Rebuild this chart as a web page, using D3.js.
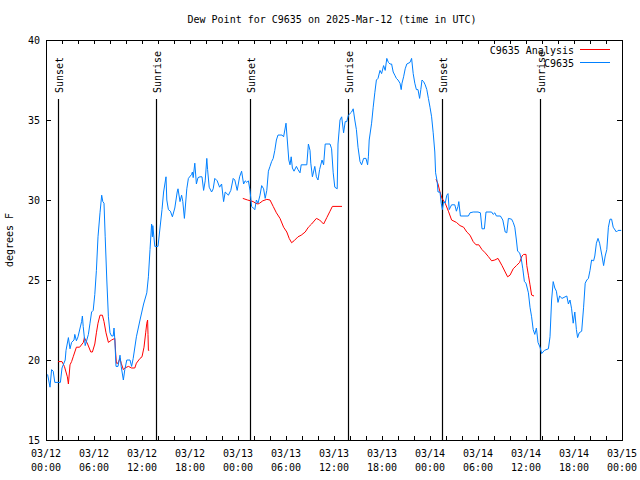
<!DOCTYPE html>
<html><head><meta charset="utf-8">
<script src="https://cdn.jsdelivr.net/npm/d3@7"></script>
<style>body{margin:0;background:#fff}svg{display:block}text{font-family:"DejaVu Sans Mono",monospace;font-size:10px;fill:#000}</style>
</head><body>
<script>
// hours since 2025-03-12 00:00 UTC, dew point (F)
const obsC9635 = [[0.2,19.1],[0.5,18.3],[0.7,19.4],[0.9,19.3],[1.1,18.6],[1.8,18.6],[2.0,19.5],[2.4,20.0],[2.5,20.6],[2.8,21.4],[3.0,20.7],[3.2,21.1],[3.5,21.25],[3.6,21.6],[3.8,21.2],[4.0,21.45],[4.45,22.4],[4.55,22.75],[4.65,22.1],[4.9,20.9],[5.3,21.6],[5.5,22.3],[5.7,23.0],[5.9,23.1],[6.1,24.1],[6.3,25.6],[6.5,27.7],[6.75,29.2],[6.96,30.3],[7.1,29.9],[7.25,29.8],[7.4,27.7],[7.6,25.0],[7.8,22.7],[8.0,21.7],[8.2,21.5],[8.4,21.5],[8.5,22.0],[8.6,21.3],[8.75,19.6],[9.0,19.6],[9.25,20.3],[9.4,19.6],[9.67,18.75],[9.85,19.4],[10.1,20.0],[10.5,20.0],[10.7,19.6],[10.9,20.1],[11.3,21.45],[11.75,22.5],[12.2,23.5],[12.6,24.2],[12.8,25.2],[13.0,26.9],[13.2,28.5],[13.3,27.7],[13.35,28.4],[13.6,27.1],[14.0,27.1],[14.5,29.4],[14.7,30.5],[15.0,31.45],[15.1,30.0],[15.3,29.4],[15.55,29.3],[15.8,28.95],[16.1,29.5],[16.4,30.5],[16.5,30.7],[16.75,29.9],[16.95,30.3],[17.1,29.9],[17.3,28.85],[17.6,30.7],[17.8,31.35],[18.2,31.6],[18.3,31.75],[18.4,31.4],[18.6,32.3],[18.8,31.0],[19.0,31.4],[19.25,31.45],[19.5,31.45],[19.7,30.6],[19.9,31.2],[20.1,32.6],[20.2,31.9],[20.4,30.8],[20.7,30.5],[20.9,30.7],[21.1,31.35],[21.4,31.2],[21.7,30.8],[21.95,31.0],[22.2,29.9],[22.4,30.5],[22.8,30.3],[23.1,30.6],[23.4,31.35],[23.6,31.25],[23.9,30.6],[24.2,31.45],[24.45,31.8],[24.7,31.0],[24.9,31.2],[25.1,31.1],[25.3,31.2],[25.5,30.6],[25.7,29.6],[25.9,29.5],[26.1,29.4],[26.3,30.0],[26.5,29.8],[26.75,30.3],[26.96,30.9],[27.2,30.7],[27.4,30.1],[27.6,30.6],[27.8,31.8],[28.0,32.1],[28.2,32.4],[28.4,32.6],[28.6,33.1],[28.8,33.75],[29.0,34.06],[29.5,34.06],[29.7,33.95],[29.9,34.5],[30.0,34.8],[30.2,33.5],[30.35,32.5],[30.5,32.2],[30.65,32.7],[30.8,32.0],[31.0,31.8],[31.3,32.1],[31.5,31.9],[31.75,31.7],[31.9,32.2],[32.6,32.2],[32.8,33.5],[33.0,33.1],[33.1,32.3],[33.3,31.45],[33.6,32.1],[33.8,31.45],[34.0,31.25],[34.2,31.9],[34.5,32.5],[34.7,32.2],[34.9,33.5],[35.5,33.5],[35.7,33.2],[35.9,31.7],[36.1,30.8],[36.4,30.7],[36.5,33.5],[36.75,35.0],[36.96,35.2],[37.2,34.2],[37.4,34.9],[37.6,34.9],[37.8,35.3],[38.2,35.5],[38.4,35.7],[38.6,35.0],[38.8,34.4],[39.0,33.3],[39.25,32.4],[39.45,32.2],[39.7,32.6],[40.0,32.6],[40.2,32.2],[40.3,32.7],[40.4,33.75],[40.7,34.8],[40.9,35.8],[41.1,36.7],[41.3,37.5],[41.5,37.6],[41.75,38.1],[41.95,37.9],[42.2,38.4],[42.4,38.1],[42.6,38.85],[42.8,38.6],[43.0,38.5],[43.2,38.5],[43.4,38.0],[43.6,37.8],[43.8,37.6],[44.0,37.5],[44.25,37.3],[44.4,36.9],[44.5,37.3],[44.7,37.7],[44.9,38.2],[45.1,38.5],[45.5,38.6],[45.7,38.85],[45.9,37.9],[46.1,37.3],[46.3,36.9],[46.5,36.9],[46.7,36.35],[46.85,36.9],[47.0,37.5],[47.2,37.4],[47.4,37.2],[47.6,36.9],[47.8,36.35],[48.0,35.8],[48.2,35.2],[48.4,34.2],[48.6,33.0],[48.7,31.7],[48.9,31.15],[49.0,30.5],[49.25,30.5],[49.4,29.8],[49.55,29.4],[49.7,29.9],[49.9,29.8],[50.1,30.3],[50.25,30.4],[50.4,29.4],[50.7,29.7],[51.1,29.7],[51.3,29.3],[51.5,29.6],[51.6,29.9],[51.8,29.0],[52.8,29.0],[53.0,29.2],[53.4,29.25],[54.0,29.25],[54.3,29.2],[54.5,28.2],[54.8,28.2],[55.0,29.25],[55.7,29.25],[55.9,29.1],[56.1,29.2],[56.3,29.0],[56.8,29.0],[57.1,28.75],[57.4,28.0],[57.6,27.95],[57.8,28.85],[58.2,28.8],[58.4,28.6],[58.6,28.3],[58.8,27.5],[58.95,26.8],[59.2,26.7],[59.4,26.35],[59.6,25.7],[59.8,24.9],[60.0,24.8],[60.3,24.2],[60.5,23.3],[60.7,22.7],[60.9,21.9],[61.1,21.6],[61.3,22.0],[61.5,21.1],[61.75,20.8],[61.96,20.4],[62.3,20.6],[62.8,20.7],[63.0,21.45],[63.2,23.75],[63.4,24.9],[63.6,24.5],[63.8,24.3],[64.0,23.6],[64.2,24.0],[64.5,23.85],[65.1,24.0],[65.3,23.5],[65.5,23.75],[65.7,23.2],[65.9,22.3],[66.1,23.0],[66.3,21.9],[66.45,21.4],[66.65,21.7],[66.96,21.8],[67.2,23.3],[67.4,24.8],[67.6,25.0],[67.8,25.1],[68.0,25.6],[68.2,26.25],[68.45,26.2],[68.6,26.5],[68.8,27.3],[69.0,27.6],[69.2,27.3],[69.5,26.5],[69.7,25.9],[69.9,26.5],[70.1,26.9],[70.3,28.3],[70.5,28.8],[70.7,28.8],[70.9,28.3],[71.3,28.0],[71.5,28.1],[71.9,28.1]];

const analysisC9635 = [[1.5,19.9],[2.0,19.9],[2.3,19.6],[2.67,18.95],[2.8,18.5],[3.0,19.7],[3.2,19.9],[3.4,20.2],[3.8,20.8],[4.2,20.8],[4.67,21.1],[4.8,21.4],[5.2,21.0],[5.6,20.5],[5.8,20.5],[6.1,21.0],[6.3,21.7],[6.5,22.3],[6.75,22.8],[7.05,22.8],[7.25,22.4],[7.5,21.7],[7.8,21.1],[8.2,21.25],[8.6,21.35],[8.7,20.5],[8.8,19.8],[9.0,19.8],[9.25,20.1],[9.4,19.8],[9.67,19.4],[9.85,19.5],[10.3,19.6],[10.7,19.5],[11.1,19.5],[11.3,19.8],[11.75,20.1],[12.0,20.2],[12.25,20.8],[12.46,21.7],[12.6,22.3],[12.7,22.5],[12.75,21.6],[12.8,20.6],[12.9,20.6],
 null,
 [24.6,30.1],[25.2,30.0],[25.9,29.9],[26.2,29.8],[26.5,29.75],[26.7,29.8],[27.1,29.95],[27.6,30.04],[28.0,30.0],[28.4,29.6],[28.8,29.2],[29.25,28.85],[29.7,28.3],[30.1,28.0],[30.4,27.6],[30.7,27.33],[31.0,27.45],[31.5,27.7],[31.9,27.8],[32.4,28.0],[32.8,28.3],[33.2,28.5],[33.8,28.85],[34.2,28.75],[34.7,28.5],[35.1,28.9],[35.5,29.3],[35.8,29.6],[37.0,29.6],
 null,
 [48.75,31.3],[49.0,31.0],[49.25,30.5],[49.5,30.1],[49.9,29.8],[50.3,29.3],[50.7,28.75],[51.3,28.6],[51.75,28.4],[52.2,28.3],[52.6,28.0],[53.0,27.8],[53.4,27.4],[53.75,27.2],[54.1,27.2],[54.5,26.9],[54.9,26.7],[55.3,26.46],[55.7,26.2],[56.1,26.25],[56.5,26.35],[57.0,25.9],[57.4,25.5],[57.7,25.2],[58.0,25.3],[58.4,25.7],[58.8,25.9],[59.2,26.1],[59.5,26.5],[59.7,26.6],[60.0,26.6],[60.1,25.9],[60.3,25.3],[60.5,24.7],[60.7,24.06],[61.0,24.0]];

const sunEvents = [[1.5,"Sunset"],[13.75,"Sunrise"],[25.5,"Sunset"],[37.75,"Sunrise"],[49.5,"Sunset"],[61.75,"Sunrise"]];
const yTicks = [15,20,25,30,35,40];
const legendLabels = ["C9635 Analysis","C9635"];
const titleText = "Dew Point for C9635 on 2025-Mar-12 (time in UTC)";

const W=640,H=480, L=46,R=622,T=40,B=440;
const t0 = Date.UTC(2025,2,12);
const toDate = h => new Date(t0 + h*3600e3);
const x = d3.scaleUtc().domain([toDate(0), toDate(72)]).range([L,R]);
const y = d3.scaleLinear().domain([15,40]).range([B,T]);

const svg = d3.select("body").append("svg").attr("width",W).attr("height",H);

svg.append("text").attr("x",332).attr("y",23).attr("text-anchor","middle").text(titleText);
svg.append("text").attr("transform","translate(13,240) rotate(-90)").attr("text-anchor","middle").text("degrees F");

const major = d3.utcHour.every(6).range(toDate(0), toDate(72.01));
const minor = d3.utcHour.every(2).range(toDate(0), toDate(72.01));
const g = svg.append("g").attr("stroke","#000").attr("stroke-width",1).attr("shape-rendering","crispEdges");
minor.forEach(d=>{const px=Math.round(x(d))+0.5;
  g.append("line").attr("x1",px).attr("x2",px).attr("y1",B).attr("y2",B-4);
  g.append("line").attr("x1",px).attr("x2",px).attr("y1",T).attr("y2",T+4);});
yTicks.forEach(v=>{const py=Math.round(y(v))+0.5;
  g.append("line").attr("x1",L).attr("x2",L+5).attr("y1",py).attr("y2",py);
  g.append("line").attr("x1",R).attr("x2",R-5).attr("y1",py).attr("y2",py);});

const fmtD=d3.utcFormat("%m/%d"), fmtT=d3.utcFormat("%H:%M");
major.forEach(d=>{
  svg.append("text").attr("x",x(d)).attr("y",457).attr("text-anchor","middle").text(fmtD(d));
  svg.append("text").attr("x",x(d)).attr("y",471).attr("text-anchor","middle").text(fmtT(d));
});
yTicks.forEach(v=>{
  svg.append("text").attr("x",40).attr("y",y(v)+4).attr("text-anchor","end").text(v);
});

sunEvents.forEach(([h,lab])=>{
  const px=Math.round(x(toDate(h)))+0.5;
  svg.append("line").attr("x1",px).attr("x2",px).attr("y1",99).attr("y2",B).attr("stroke","#000").attr("stroke-width",1.2);
  svg.append("text").attr("transform",`translate(${px+4},93) rotate(-90)`).attr("text-anchor","start").text(lab);
});

const line = d3.line().defined(d=>d!==null).x(d=>x(toDate(d[0]))).y(d=>y(d[1]));
svg.append("path").datum(analysisC9635).attr("d",line).attr("fill","none").attr("stroke","#ff0000").attr("stroke-width",1);
svg.append("path").datum(obsC9635).attr("d",line).attr("fill","none").attr("stroke","#0080ff").attr("stroke-width",1);

svg.append("rect").attr("x",L+0.5).attr("y",T+0.5).attr("width",R-L).attr("height",B-T).attr("fill","none").attr("stroke","#000").attr("shape-rendering","crispEdges");

const legColors=["#ff0000","#0080ff"];
legendLabels.forEach((lab,i)=>{
  const ly=50+i*13;
  svg.append("text").attr("x",574).attr("y",ly+4).attr("text-anchor","end").text(lab);
  svg.append("line").attr("x1",580).attr("x2",610).attr("y1",ly-0.5).attr("y2",ly-0.5).attr("stroke",legColors[i]).attr("stroke-width",1);
});
</script>
</body></html>
